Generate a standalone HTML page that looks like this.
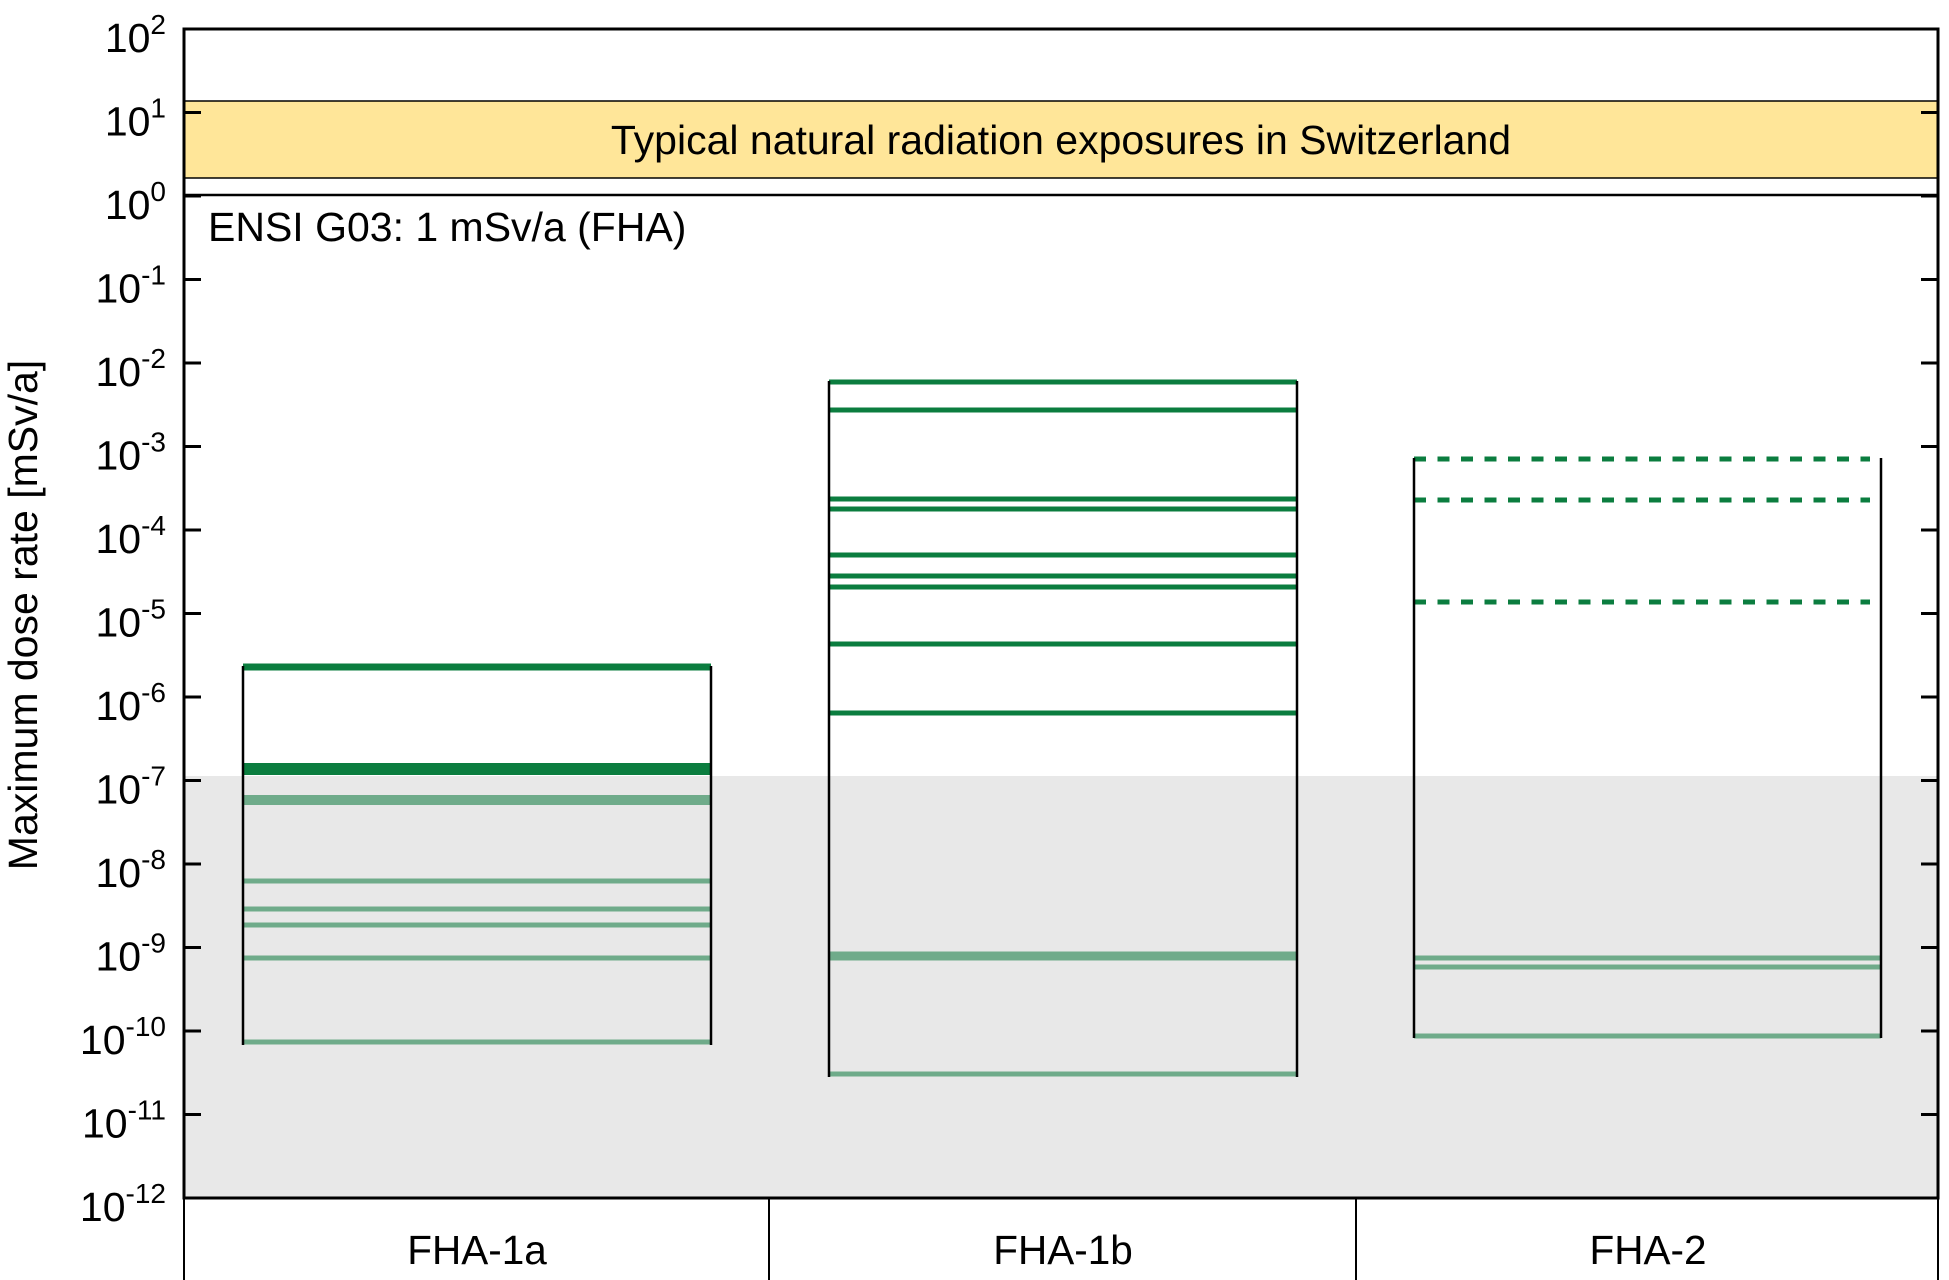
<!DOCTYPE html>
<html><head><meta charset="utf-8"><style>
html,body{margin:0;padding:0;background:#fff;}
svg{display:block;font-family:"Liberation Sans",Arial,sans-serif;}
</style></head><body>
<svg width="1949" height="1280" viewBox="0 0 1949 1280" xmlns="http://www.w3.org/2000/svg">
<rect x="0" y="0" width="1949" height="1280" fill="#fff"/>
<rect x="184" y="776" width="1754" height="422" fill="#e8e8e8"/>
<rect x="184" y="101" width="1754" height="77" fill="#ffe699" stroke="#000" stroke-width="1.5"/>
<text x="1061" y="154" font-size="41" text-anchor="middle" fill="#000">Typical natural radiation exposures in Switzerland</text>
<line x1="184" y1="195" x2="1938" y2="195" stroke="#000" stroke-width="2.5"/>
<text x="208" y="241" font-size="41" fill="#000">ENSI G03: 1 mSv/a (FHA)</text>

<g stroke="#0b7d3f">
<line x1="243" y1="667" x2="711" y2="667" stroke-width="7"/>
<line x1="243" y1="769" x2="711" y2="769" stroke-width="12"/>
</g>
<g stroke="#6fab8a">
<line x1="243" y1="800" x2="711" y2="800" stroke-width="10"/>
<line x1="243" y1="881" x2="711" y2="881" stroke-width="5"/>
<line x1="243" y1="909" x2="711" y2="909" stroke-width="5"/>
<line x1="243" y1="925" x2="711" y2="925" stroke-width="5"/>
<line x1="243" y1="958" x2="711" y2="958" stroke-width="5"/>
<line x1="243" y1="1042" x2="711" y2="1042" stroke-width="5"/>
</g>
<g stroke="#0b7d3f" stroke-width="5">
<line x1="829" y1="382" x2="1297" y2="382"/>
<line x1="829" y1="410" x2="1297" y2="410"/>
<line x1="829" y1="499" x2="1297" y2="499"/>
<line x1="829" y1="509" x2="1297" y2="509"/>
<line x1="829" y1="555" x2="1297" y2="555"/>
<line x1="829" y1="576" x2="1297" y2="576"/>
<line x1="829" y1="587" x2="1297" y2="587"/>
<line x1="829" y1="644" x2="1297" y2="644"/>
<line x1="829" y1="713" x2="1297" y2="713"/>
</g>
<g stroke="#6fab8a">
<line x1="829" y1="956" x2="1297" y2="956" stroke-width="9"/>
<line x1="829" y1="1074" x2="1297" y2="1074" stroke-width="5"/>
</g>
<g stroke="#0b7d3f" stroke-width="5" stroke-dasharray="12,11.5">
<line x1="1414" y1="459" x2="1870" y2="459"/>
<line x1="1414" y1="500" x2="1870" y2="500"/>
<line x1="1414" y1="602" x2="1870" y2="602"/>
</g>
<g stroke="#6fab8a" stroke-width="5">
<line x1="1414" y1="958" x2="1881" y2="958"/>
<line x1="1414" y1="967" x2="1881" y2="967"/>
<line x1="1414" y1="1036" x2="1881" y2="1036"/>
</g>
<g stroke="#000" stroke-width="2.5">
<line x1="243" y1="666" x2="243" y2="1045"/>
<line x1="711" y1="666" x2="711" y2="1045"/>
<line x1="829" y1="381" x2="829" y2="1077"/>
<line x1="1297" y1="381" x2="1297" y2="1077"/>
<line x1="1414" y1="458" x2="1414" y2="1038"/>
<line x1="1881" y1="458" x2="1881" y2="1038"/>
</g>

<rect x="184" y="29" width="1754" height="1169" fill="none" stroke="#000" stroke-width="3"/>
<g stroke="#000" stroke-width="2">
<line x1="184" y1="1198" x2="184" y2="1280"/>
<line x1="769" y1="1198" x2="769" y2="1280"/>
<line x1="1356" y1="1198" x2="1356" y2="1280"/>
<line x1="1938" y1="1198" x2="1938" y2="1280"/>
</g>
<g font-size="40.5" text-anchor="middle" fill="#000">
<text x="477" y="1264">FHA-1a</text>
<text x="1063" y="1264">FHA-1b</text>
<text x="1648" y="1264">FHA-2</text>
</g>

<g stroke="#000" stroke-width="3">
<path d="M184 29h17M184 112.5h17M184 196h17M184 279.5h17M184 363h17M184 446.5h17M184 530h17M184 613.5h17M184 697h17M184 780.5h17M184 864h17M184 947.5h17M184 1031h17M184 1114.5h17M184 1198h17"/>
<path d="M1938 29h-17M1938 112.5h-17M1938 196h-17M1938 279.5h-17M1938 363h-17M1938 446.5h-17M1938 530h-17M1938 613.5h-17M1938 697h-17M1938 780.5h-17M1938 864h-17M1938 947.5h-17M1938 1031h-17M1938 1114.5h-17M1938 1198h-17"/>
</g>
<g font-size="41" fill="#000" text-anchor="end">
<text x="166" y="52">10<tspan font-size="28" dy="-18">2</tspan></text>
<text x="166" y="135.5">10<tspan font-size="28" dy="-18">1</tspan></text>
<text x="166" y="219">10<tspan font-size="28" dy="-18">0</tspan></text>
<text x="166" y="302.5">10<tspan font-size="28" dy="-18">-1</tspan></text>
<text x="166" y="386">10<tspan font-size="28" dy="-18">-2</tspan></text>
<text x="166" y="469.5">10<tspan font-size="28" dy="-18">-3</tspan></text>
<text x="166" y="553">10<tspan font-size="28" dy="-18">-4</tspan></text>
<text x="166" y="636.5">10<tspan font-size="28" dy="-18">-5</tspan></text>
<text x="166" y="720">10<tspan font-size="28" dy="-18">-6</tspan></text>
<text x="166" y="803.5">10<tspan font-size="28" dy="-18">-7</tspan></text>
<text x="166" y="887">10<tspan font-size="28" dy="-18">-8</tspan></text>
<text x="166" y="970.5">10<tspan font-size="28" dy="-18">-9</tspan></text>
<text x="166" y="1054">10<tspan font-size="28" dy="-18">-10</tspan></text>
<text x="166" y="1137.5">10<tspan font-size="28" dy="-18">-11</tspan></text>
<text x="166" y="1221">10<tspan font-size="28" dy="-18">-12</tspan></text>
</g>
<text transform="translate(37,615) rotate(-90)" font-size="41" text-anchor="middle" fill="#000">Maximum dose rate [mSv/a]</text>
</svg>
</body></html>
